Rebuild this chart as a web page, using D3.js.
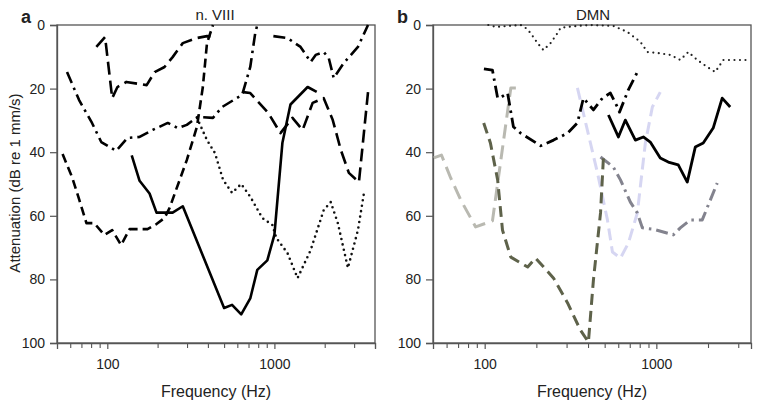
<!DOCTYPE html>
<html><head><meta charset="utf-8">
<script src="https://cdn.jsdelivr.net/npm/d3@7"></script>
<style>
html,body{margin:0;padding:0;background:#fff;}
svg text{font-family:Arial,"Liberation Sans",sans-serif;fill:#222;}
</style></head>
<body><svg id="c" width="760" height="405"></svg>
<script>
// ---------- Data: [frequency Hz, attenuation dB] ----------
// Panel a (n. VIII)
const aSolid   = [[140,41],[156,49],[179,53],[197,59],[246,59],[283,57],[500,89],[558,88],[633,91],[717,86],[790,77],[907,74],[1000,66],[1117,37],[1248,25],[1581,19.5],[1791,21]];
const aDashMed = [[54,40.6],[61.5,47.8],[68,55],[75,62.3],[83.5,62.3],[96,66],[107,64.5],[121,69.2],[136,64.2],[174,64.2],[197,62.6],[220,60.7],[236,57.5],[299,42.5],[344,32],[373,19.5],[395,5.7],[429,0]];
const aDashLong1 = [[86,6.9],[97,3.8],[107,23],[115,19.5],[130,17.9],[172,18.9],[192,14.8],[220,13.2],[246,10.1],[283,5.7],[344,4.1],[395,3.5],[441,3.8]];
const aDashDot1 = [[57.4,14.8],[67.8,23.6],[81,30.8],[92,36.8],[113,39.6],[132,35.5],[156,35.2],[187,33],[230,30.8],[264,32.4],[299,31.4],[348,28.9],[429,29.2],[486,25.8],[582,23.3],[641,22],[717,13.2],[768,2.5],[790,0]];
const aDotted  = [[344,29.2],[395,36.2],[441,40.3],[493,48.7],[558,52.8],[633,50],[717,54],[847,60.7],[973,62.9],[1028,67],[1197,71.7],[1376,79.6],[1648,70.8],[1973,58.2],[2174,55.7],[2397,62.3],[2754,76.4],[3162,64.5],[3437,52.8]];
const aDashLong2 = [[650,21.1],[717,21.4],[920,27.7],[1087,34],[1283,29.2],[1475,33],[1694,24.5],[1973,23],[2235,29.9],[2498,39.3],[2790,46.5],[3206,49.4],[3633,21.1]];
const aDashDot2 = [[986,3.5],[1197,4.1],[1434,6.9],[1648,11.6],[1766,9.4],[1973,8.5],[2115,10.4],[2265,16.7],[2606,11.9],[3162,6.9],[3633,0]];

// Panel b (DMN)
const bDotted  = [[105,0],[116,0.6],[162,0],[173,0.9],[185,2.5],[203,5.7],[220,7.9],[242,5.7],[266,2.5],[277,0.9],[304,0.6],[347,0.3],[413,0],[562,0.3],[678,2.2],[807,5.3],[887,8.5],[1014,8.8],[1205,9.4],[1379,11],[1535,8.5],[1731,11],[1980,13.2],[2203,14.8],[2454,11],[3381,11]];
const bDashDot = [[99,13.8],[111,14.2],[119,23],[125.5,22.6],[136,21.4],[147,32],[162,34],[212,38],[252,36.2],[304,34],[347,30.8],[376,23],[430,26.7],[485,23],[540,21.4],[593,25.8],[610,27.4],[687,20.4],[785,14.2]];
const bSolid   = [[526,28.3],[601,35.2],[660,29.9],[755,36.2],[840,35.2],[922,36.8],[1054,41.8],[1174,43.1],[1342,44],[1514,49.4],[1686,38.4],[1876,37.1],[2144,32.4],[2419,23],[2692,25.8]];
const bLightGray = [[50.5,41.8],[56,40.9],[63.4,48.1],[72.5,55],[88.6,63.5],[111,61.6],[142,19.8],[158,19.8]];
const bOlive   = [[98.7,30.8],[108,37.1],[119,48.7],[127,64.5],[142,73],[178,76.1],[198,73.3],[252,79.6],[304,87.4],[361,95.9],[402,99.7],[430,80.2],[473,59.1],[492,41.5]];
const bLavender = [[347,19.8],[454,46.5],[519,61.3],[555,71.4],[618,73.3],[687,68.6],[775,59.1],[863,37.1],[948,25.8],[1054,21.1]];
const bGrayDashDot = [[473,41.5],[562,44.7],[618,48.7],[706,55.7],[775,59.1],[829,63.8],[961,64.2],[1255,66],[1379,63.8],[1577,61.3],[1851,61.3],[2263,49.7]];

// Axis ticks
const yTicks = [0,20,40,60,80,100];
const xMajor = [100,1000];
const xMinorA = [60,70,80,90,200,300,400,500,600,700,800,900,2000,3000,4000];
const xMinorB = [60,70,80,90,200,300,400,500,600,700,800,900,2000,3000];

const titles = ["n. VIII","DMN"];
const letters = ["a","b"];

// ---------- Drawing ----------
const svg = d3.select("#c");
const axisColor = "#555";

function panel(cfg){
  const g = svg.append("g");
  const x = d3.scaleLog().domain(cfg.xDomain).range([cfg.left, cfg.right]);
  const y = d3.scaleLinear().domain([0,100]).range([cfg.top, cfg.bottom]);

  // frame
  g.append("rect").attr("x",cfg.left).attr("y",cfg.top)
    .attr("width",cfg.right-cfg.left).attr("height",cfg.bottom-cfg.top)
    .attr("fill","none").attr("stroke",axisColor).attr("stroke-width",1.3);

  // y axis
  const ya = g.append("g").attr("transform",`translate(${cfg.left},0)`)
    .call(d3.axisLeft(y).tickValues(yTicks).tickSize(7).tickPadding(5).tickFormat(d3.format("d")));
  ya.select(".domain").attr("stroke",axisColor).attr("stroke-width",1.3);
  ya.selectAll(".tick line").attr("stroke",axisColor).attr("stroke-width",1.2);
  ya.selectAll(".tick text").style("font-size","14px").style("font-family","Arial, 'Liberation Sans', sans-serif").attr("fill","#222");

  // x axis
  const xa = g.append("g").attr("transform",`translate(0,${cfg.bottom})`)
    .call(d3.axisBottom(x).tickValues(xMajor).tickSize(6).tickPadding(10).tickFormat(d3.format("d")));
  xa.select(".domain").attr("stroke",axisColor).attr("stroke-width",1.3);
  xa.selectAll(".tick line").attr("stroke",axisColor).attr("stroke-width",1.2);
  xa.selectAll(".tick text").style("font-size","14px").style("font-family","Arial, 'Liberation Sans', sans-serif").attr("fill","#222");
  const xm = g.append("g").attr("transform",`translate(0,${cfg.bottom})`)
    .call(d3.axisBottom(x).tickValues(cfg.minor).tickSize(5).tickFormat(""));
  xm.select(".domain").remove();
  xm.selectAll(".tick line").attr("stroke",axisColor).attr("stroke-width",1.1);

  // labels
  g.append("text").attr("x",(cfg.left+cfg.right)/2).attr("y",397)
    .attr("text-anchor","middle").style("font-size","16px").text("Frequency (Hz)");
  g.append("text").attr("x",cfg.titleX).attr("y",20)
    .attr("text-anchor","middle").style("font-size","15px").text(cfg.title);
  g.append("text").attr("x",cfg.letterX).attr("y",23)
    .style("font-size","18px").style("font-weight","bold").text(cfg.letter);

  const line = d3.line().x(d=>x(d[0])).y(d=>y(d[1]));
  const clipId = "clip"+cfg.letter;
  svg.append("clipPath").attr("id",clipId).append("rect")
    .attr("x",cfg.left).attr("y",cfg.top-2).attr("width",cfg.right-cfg.left).attr("height",cfg.bottom-cfg.top+4);
  const lg = g.append("g").attr("clip-path",`url(#${clipId})`);
  cfg.series.forEach(s=>{
    lg.append("path").datum(s.data).attr("d",line)
      .attr("fill","none").attr("stroke",s.color).attr("stroke-width",s.w)
      .attr("stroke-dasharray",s.dash).attr("stroke-linecap",s.cap||"butt")
      .attr("stroke-linejoin","round");
  });
}

panel({
  left:57, right:375, top:25, bottom:343, xDomain:[50,4000], minor:xMinorA,
  title:titles[0], titleX:215, letter:letters[0], letterX:21,
  series:[
    {data:aDotted, color:"#111", w:2.6, dash:"0,5.5", cap:"round"},
    {data:aSolid, color:"#000", w:2.6, dash:null},
    {data:aDashMed, color:"#000", w:2.6, dash:"9,5"},
    {data:aDashLong1, color:"#000", w:2.6, dash:"13,6"},
    {data:aDashLong2, color:"#000", w:2.6, dash:"13,6"},
    {data:aDashDot1, color:"#000", w:2.6, dash:"12,5,2.5,5"},
    {data:aDashDot2, color:"#000", w:2.6, dash:"12,5,2.5,5"}
  ]
});

panel({
  left:433, right:751, top:25, bottom:343, xDomain:[50,3560], minor:xMinorB,
  title:titles[1], titleX:593, letter:letters[1], letterX:397,
  series:[
    {data:bLightGray, color:"#b9b9b1", w:3, dash:"14,7"},
    {data:bLavender, color:"#d6d6f2", w:3, dash:"12,6"},
    {data:bGrayDashDot, color:"#83838e", w:3, dash:"12,5,2.5,5"},
    {data:bOlive, color:"#5e624a", w:3, dash:"11,6"},
    {data:bDotted, color:"#222", w:2.2, dash:"0,5.5", cap:"round"},
    {data:bDashDot, color:"#000", w:2.8, dash:"12,5,2.5,5"},
    {data:bSolid, color:"#000", w:2.8, dash:null}
  ]
});

// shared y-axis title
svg.append("text").attr("transform","translate(20,183) rotate(-90)")
  .attr("text-anchor","middle").style("font-size","15px").text("Attenuation (dB re 1 mm/s)");
</script></body></html>
